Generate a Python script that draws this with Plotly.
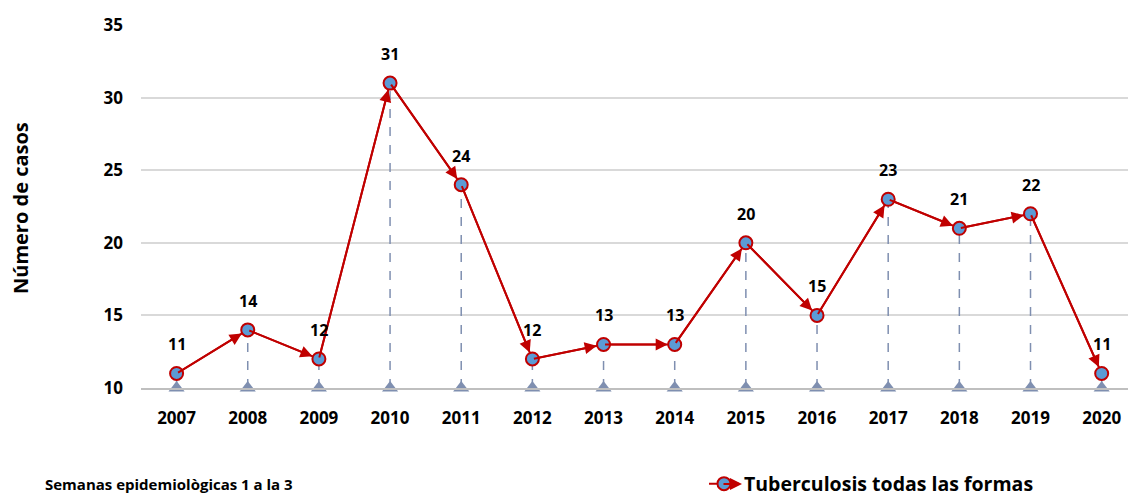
import plotly.graph_objects as go

years = ["2007", "2008", "2009", "2010", "2011", "2012", "2013", "2014",
         "2015", "2016", "2017", "2018", "2019", "2020"]
cases = [11, 14, 12, 31, 24, 12, 13, 13, 20, 15, 23, 21, 22, 11]
series_name = "Tuberculosis todas las formas"
y_ticks = [10, 15, 20, 25, 30, 35]
base = 10

FONT = "Open Sans"
RED = "#C00000"
BLUE = "#5B9BD5"
DROP = "#7F8FB0"

idx = list(range(len(years)))

fig = go.Figure()

# dashed drop lines
dx, dy = [], []
for i, v in zip(idx, cases):
    dx += [i, i, None]
    dy += [base, v, None]
fig.add_trace(go.Scatter(x=dx, y=dy, mode="lines", showlegend=False,
                         line=dict(color=DROP, width=1.5, dash="dash"),
                         hoverinfo="skip"))
# triangles at base
fig.add_trace(go.Scatter(x=idx, y=[base] * len(idx), mode="markers", showlegend=False,
                         marker=dict(symbol="triangle-up", size=14, color=DROP),
                         cliponaxis=False, hoverinfo="skip"))
# main series
fig.add_trace(go.Scatter(x=idx, y=cases, mode="lines+markers", name=series_name,
                         line=dict(color=RED, width=2),
                         marker=dict(symbol="circle", size=13, color=BLUE,
                                     line=dict(color=RED, width=2)),
                         cliponaxis=False))

annotations = []
# arrowheads along segments
for i in range(1, len(idx)):
    annotations.append(dict(x=idx[i], y=cases[i], ax=idx[i - 1], ay=cases[i - 1],
                            xref="x", yref="y", axref="x", ayref="y",
                            text="", showarrow=True, arrowhead=2, arrowsize=1.2,
                            arrowwidth=2, arrowcolor=RED, standoff=7))
# data labels
for i, v in zip(idx, cases):
    annotations.append(dict(x=i, y=v, xref="x", yref="y", text=str(v),
                            showarrow=False, yshift=29,
                            font=dict(family=FONT, size=16, color="black", weight="bold")))
# y axis title
annotations.append(dict(x=(20 - 141) / 987, y=(388 - 208) / 363, xref="paper", yref="paper",
                        xanchor="center", yanchor="middle",
                        text="Número de casos", textangle=-90, showarrow=False,
                        font=dict(family=FONT, size=20, color="black", weight="bold")))
BOTTOM_Y = 484
# bottom-left note
annotations.append(dict(x=(43 - 141) / 987, y=(388 - BOTTOM_Y) / 363, xref="paper", yref="paper",
                        xanchor="left", yanchor="middle",
                        text="Semanas epidemiològicas 1 a la 3", showarrow=False,
                        font=dict(family=FONT, size=15, color="black", weight="bold")))
# arrowhead in legend symbol
annotations.append(dict(x=(742 - 141) / 987, y=(388 - BOTTOM_Y) / 363, ax=-20, ay=0,
                        xref="paper", yref="paper", axref="pixel", ayref="pixel",
                        text="", showarrow=True, arrowhead=2, arrowsize=1.2,
                        arrowwidth=2, arrowcolor=RED))

fig.update_layout(
    width=1128, height=496,
    margin=dict(l=141, r=0, t=25, b=108),
    plot_bgcolor="white", paper_bgcolor="white",
    font=dict(family=FONT, color="black"),
    showlegend=True,
    legend=dict(x=(704 - 141) / 987, y=(496 - BOTTOM_Y) / 496, xanchor="left", yanchor="middle",
                yref="container",
                orientation="h", bgcolor="rgba(0,0,0,0)",
                font=dict(family=FONT, size=19.5, color="black", weight="bold")),
    annotations=annotations,
)
fig.update_xaxes(range=[-0.5, 13.37], tickmode="array", tickvals=idx, ticktext=years,
                 showgrid=False, zeroline=False, showline=True, linecolor="#BFBFBF",
                 linewidth=1.5, ticks="", ticklabelstandoff=14, automargin=False,
                 tickfont=dict(family=FONT, size=17, color="black", weight="bold"))
fig.update_yaxes(range=[10, 35], tickmode="array", tickvals=y_ticks,
                 showgrid=True, gridcolor="#D9D9D9", gridwidth=1.5, zeroline=False,
                 showline=False, ticks="", ticklabelstandoff=17, automargin=False,
                 tickfont=dict(family=FONT, size=17, color="black", weight="bold"))

fig.write_html("out.html", config={"displayModeBar": False},
               post_script="document.body.style.margin='0px';")
